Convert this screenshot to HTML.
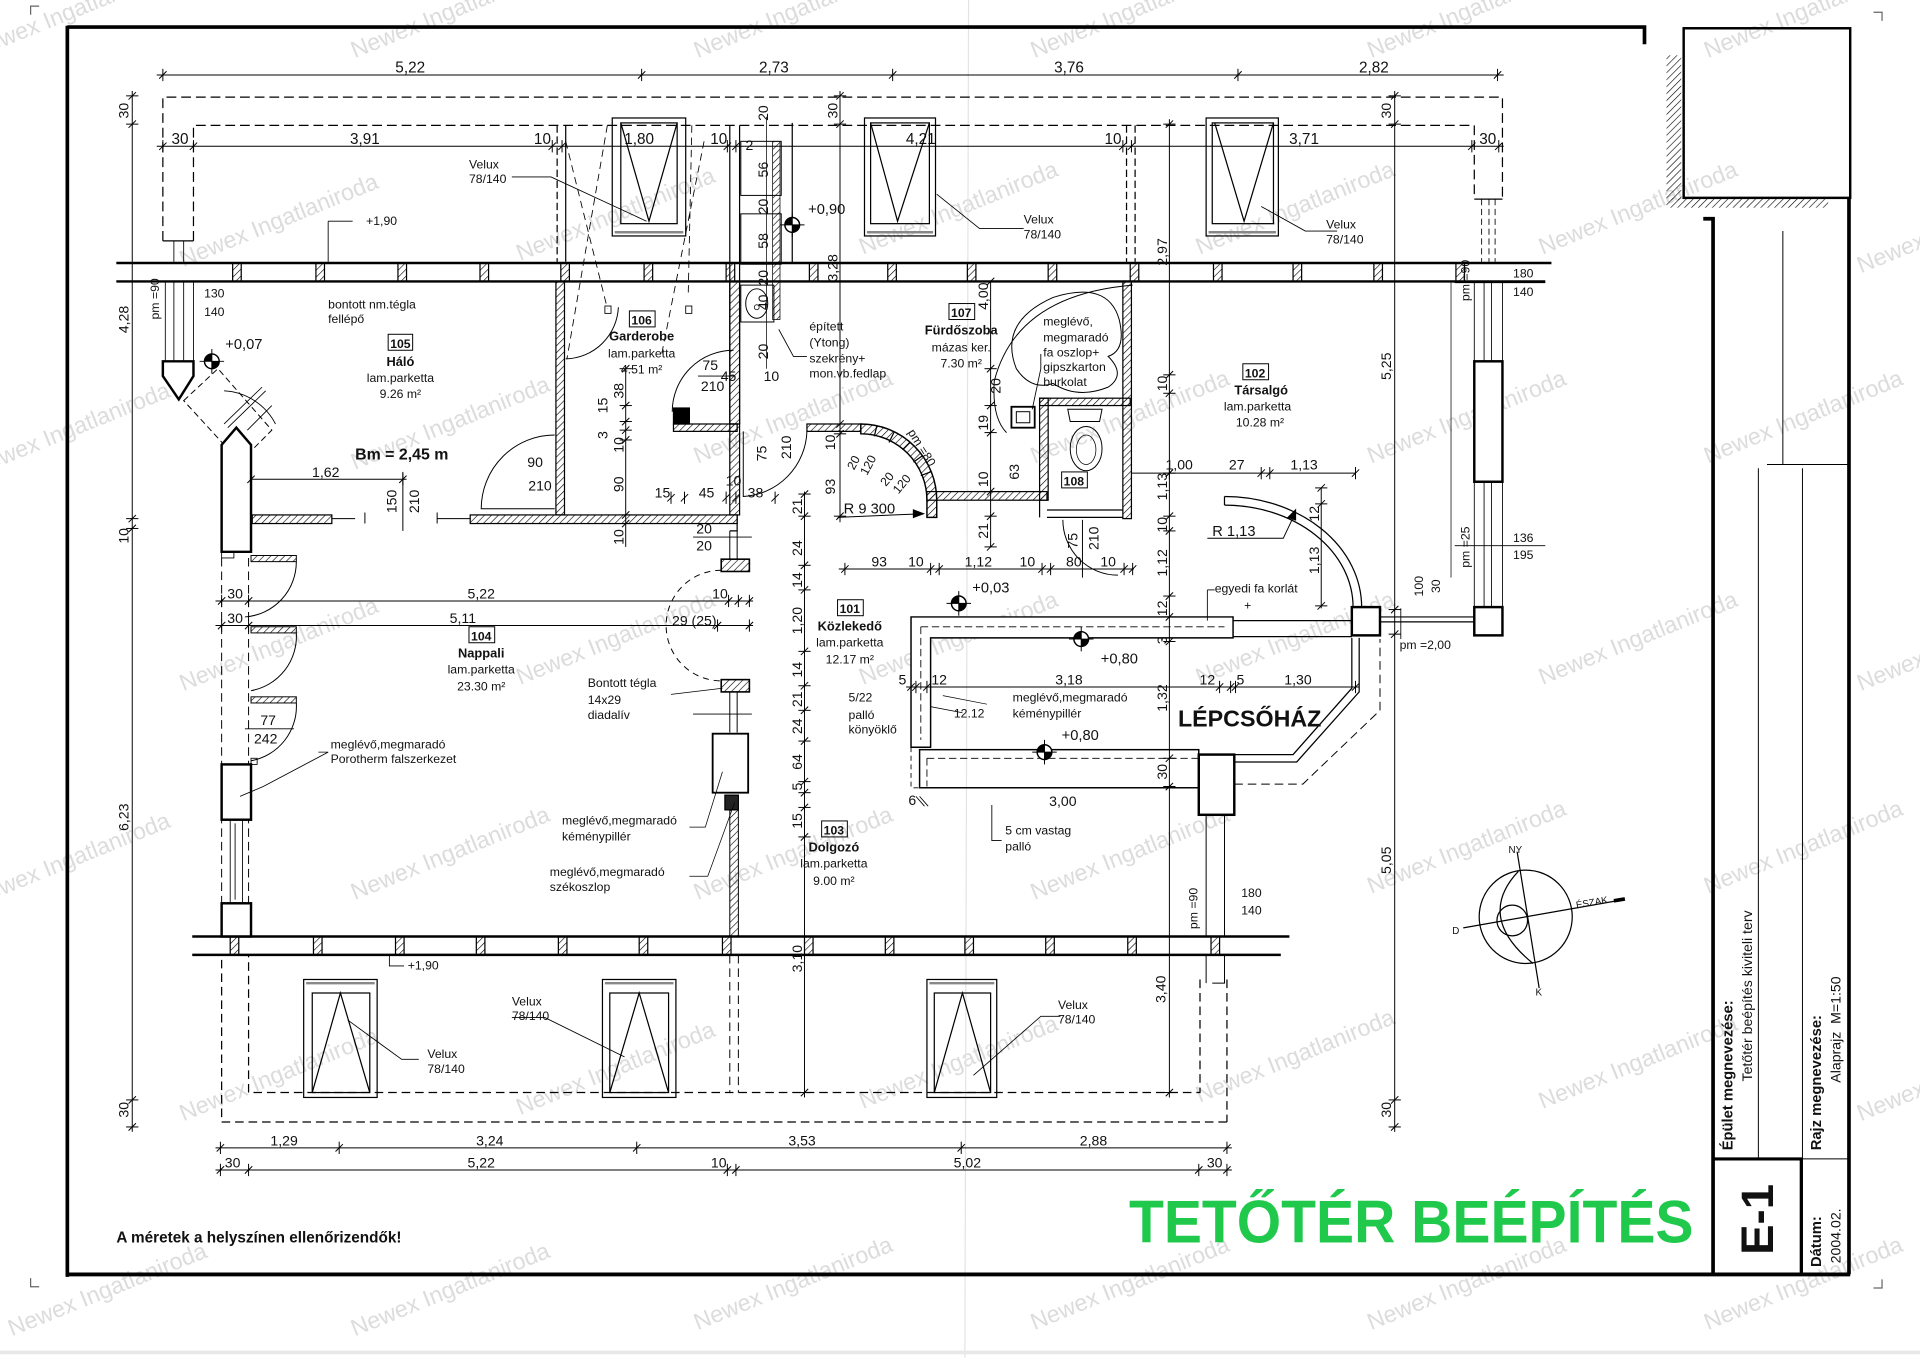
<!DOCTYPE html>
<html><head><meta charset="utf-8">
<style>
html,body{margin:0;padding:0;background:#fff;width:1920px;height:1358px;overflow:hidden}
svg{display:block}
text{font-family:"Liberation Sans",Arial,sans-serif;fill:#111}
.wm{font-size:19px;fill:#dcdcdc}
.d{font-size:12.5px}
.e{font-size:11.5px}
.n{font-size:10px}
.r{font-size:10.5px;font-weight:bold}
</style></head><body>
<svg width="1920" height="1358" viewBox="0 0 1568 1105" preserveAspectRatio="none" xmlns="http://www.w3.org/2000/svg">
<defs>
<pattern id="h" width="4" height="4" patternUnits="userSpaceOnUse" patternTransform="rotate(45)"><line x1="0" y1="0" x2="0" y2="4" stroke="#000" stroke-width="1"/></pattern>
<g id="t" stroke="#000" stroke-width=".8"><line x1="0" y1="-5" x2="0" y2="5"/><line x1="-3" y1="3" x2="3" y2="-3"/></g>
<g id="tv" stroke="#000" stroke-width=".8"><line x1="-5" y1="0" x2="5" y2="0"/><line x1="-3" y1="3" x2="3" y2="-3"/></g>
<g id="lv"><circle r="6" fill="#fff" stroke="#000" stroke-width="1.2"/><path d="M0,0 L-6,0 A6,6 0 0 1 0,-6 Z M0,0 L6,0 A6,6 0 0 1 0,6 Z" fill="#000"/><line x1="-10" y1="0" x2="10" y2="0" stroke="#000" stroke-width=".8"/><line x1="0" y1="-10" x2="0" y2="10" stroke="#000" stroke-width=".8"/></g>
<g id="post"><rect x="0" y="0" width="7" height="15" fill="url(#h)" stroke="#000" stroke-width="1"/></g>
</defs>

<!-- watermarks -->
<g class="wmg">
<text class="wm" text-anchor="middle" transform="translate(60,15) rotate(-22)">Newex Ingatlaniroda</text>
<text class="wm" text-anchor="middle" transform="translate(370,15) rotate(-22)">Newex Ingatlaniroda</text>
<text class="wm" text-anchor="middle" transform="translate(650,15) rotate(-22)">Newex Ingatlaniroda</text>
<text class="wm" text-anchor="middle" transform="translate(925,15) rotate(-22)">Newex Ingatlaniroda</text>
<text class="wm" text-anchor="middle" transform="translate(1200,15) rotate(-22)">Newex Ingatlaniroda</text>
<text class="wm" text-anchor="middle" transform="translate(1475,15) rotate(-22)">Newex Ingatlaniroda</text>
<text class="wm" text-anchor="middle" transform="translate(230,185) rotate(-22)">Newex Ingatlaniroda</text>
<text class="wm" text-anchor="middle" transform="translate(505,180) rotate(-22)">Newex Ingatlaniroda</text>
<text class="wm" text-anchor="middle" transform="translate(785,175) rotate(-22)">Newex Ingatlaniroda</text>
<text class="wm" text-anchor="middle" transform="translate(1060,175) rotate(-22)">Newex Ingatlaniroda</text>
<text class="wm" text-anchor="middle" transform="translate(1340,175) rotate(-22)">Newex Ingatlaniroda</text>
<text class="wm" text-anchor="middle" transform="translate(1600,190) rotate(-22)">Newex Ingatlaniroda</text>
<text class="wm" text-anchor="middle" transform="translate(60,355) rotate(-22)">Newex Ingatlaniroda</text>
<text class="wm" text-anchor="middle" transform="translate(370,350) rotate(-22)">Newex Ingatlaniroda</text>
<text class="wm" text-anchor="middle" transform="translate(650,345) rotate(-22)">Newex Ingatlaniroda</text>
<text class="wm" text-anchor="middle" transform="translate(925,345) rotate(-22)">Newex Ingatlaniroda</text>
<text class="wm" text-anchor="middle" transform="translate(1200,345) rotate(-22)">Newex Ingatlaniroda</text>
<text class="wm" text-anchor="middle" transform="translate(1475,345) rotate(-22)">Newex Ingatlaniroda</text>
<text class="wm" text-anchor="middle" transform="translate(230,530) rotate(-22)">Newex Ingatlaniroda</text>
<text class="wm" text-anchor="middle" transform="translate(505,525) rotate(-22)">Newex Ingatlaniroda</text>
<text class="wm" text-anchor="middle" transform="translate(785,525) rotate(-22)">Newex Ingatlaniroda</text>
<text class="wm" text-anchor="middle" transform="translate(1060,525) rotate(-22)">Newex Ingatlaniroda</text>
<text class="wm" text-anchor="middle" transform="translate(1340,525) rotate(-22)">Newex Ingatlaniroda</text>
<text class="wm" text-anchor="middle" transform="translate(1600,530) rotate(-22)">Newex Ingatlaniroda</text>
<text class="wm" text-anchor="middle" transform="translate(60,705) rotate(-22)">Newex Ingatlaniroda</text>
<text class="wm" text-anchor="middle" transform="translate(370,700) rotate(-22)">Newex Ingatlaniroda</text>
<text class="wm" text-anchor="middle" transform="translate(650,700) rotate(-22)">Newex Ingatlaniroda</text>
<text class="wm" text-anchor="middle" transform="translate(925,700) rotate(-22)">Newex Ingatlaniroda</text>
<text class="wm" text-anchor="middle" transform="translate(1200,695) rotate(-22)">Newex Ingatlaniroda</text>
<text class="wm" text-anchor="middle" transform="translate(1475,695) rotate(-22)">Newex Ingatlaniroda</text>
<text class="wm" text-anchor="middle" transform="translate(230,880) rotate(-22)">Newex Ingatlaniroda</text>
<text class="wm" text-anchor="middle" transform="translate(505,875) rotate(-22)">Newex Ingatlaniroda</text>
<text class="wm" text-anchor="middle" transform="translate(785,870) rotate(-22)">Newex Ingatlaniroda</text>
<text class="wm" text-anchor="middle" transform="translate(1060,865) rotate(-22)">Newex Ingatlaniroda</text>
<text class="wm" text-anchor="middle" transform="translate(1340,870) rotate(-22)">Newex Ingatlaniroda</text>
<text class="wm" text-anchor="middle" transform="translate(1600,880) rotate(-22)">Newex Ingatlaniroda</text>
<text class="wm" text-anchor="middle" transform="translate(90,1055) rotate(-22)">Newex Ingatlaniroda</text>
<text class="wm" text-anchor="middle" transform="translate(370,1055) rotate(-22)">Newex Ingatlaniroda</text>
<text class="wm" text-anchor="middle" transform="translate(650,1050) rotate(-22)">Newex Ingatlaniroda</text>
<text class="wm" text-anchor="middle" transform="translate(925,1050) rotate(-22)">Newex Ingatlaniroda</text>
<text class="wm" text-anchor="middle" transform="translate(1200,1050) rotate(-22)">Newex Ingatlaniroda</text>
<text class="wm" text-anchor="middle" transform="translate(1475,1050) rotate(-22)">Newex Ingatlaniroda</text>
</g>

<!-- scan artefacts -->
<line x1="791" y1="0" x2="788" y2="1105" stroke="#e4e4e4" stroke-width="1"/>
<rect x="0" y="1099" width="1568" height="3" fill="#e8e8e8"/>
<path d="M25,12 V5 H32" fill="none" stroke="#666" stroke-width="1"/>
<path d="M25,1040 V1047 H32" fill="none" stroke="#666" stroke-width="1"/>
<path d="M1530,10 H1537 V17" fill="none" stroke="#666" stroke-width="1"/>
<path d="M1530,1048 H1537 V1041" fill="none" stroke="#666" stroke-width="1"/>

<!-- FRAME -->
<g stroke="#000" fill="none">
<path d="M55,22 H1343 V36" stroke-width="3"/>
<line x1="55" y1="21" x2="55" y2="1039" stroke-width="3"/>
<line x1="54" y1="1037" x2="1511" y2="1037" stroke-width="3.2"/>
<rect x="1375" y="23" width="136" height="138" stroke-width="2"/>
<rect x="1361" y="45" width="12" height="118" fill="url(#h)" stroke="none"/>
<rect x="1361" y="161" width="132" height="8" fill="url(#h)" stroke="none"/>
<path d="M1391,178 H1399 V1037" stroke-width="3"/>
<line x1="1510" y1="161" x2="1510" y2="1037" stroke-width="3"/>
<line x1="1456" y1="188" x2="1456" y2="378" stroke-width=".8"/>
<line x1="1443" y1="378" x2="1509" y2="378" stroke-width=".8"/>
<line x1="1436" y1="381" x2="1436" y2="943" stroke-width=".8"/>
<line x1="1472" y1="381" x2="1472" y2="1037" stroke-width=".8"/>
<path d="M1399,943 H1471 V1037" stroke-width="2.5"/>
<line x1="1472" y1="943" x2="1509" y2="943" stroke-width=".8"/>
</g>
<!-- title block texts -->
<text transform="translate(1415,936) rotate(-90)" font-size="12" font-weight="bold">Épület megnevezése:</text>
<text transform="translate(1431,880) rotate(-90)" font-size="11.5">Tetőtér beépítés kiviteli terv</text>
<text transform="translate(1487,936) rotate(-90)" font-size="12" font-weight="bold">Rajz megnevezése:</text>
<text transform="translate(1503,881) rotate(-90)" font-size="11.5" xml:space="preserve">Alaprajz  M=1:50</text>
<text transform="translate(1487,1031) rotate(-90)" font-size="12" font-weight="bold">Dátum:</text>
<text transform="translate(1503,1028) rotate(-90)" font-size="11.5">2004.02.</text>
<text transform="translate(1448,1021) rotate(-90)" font-size="37" font-weight="bold">E-1</text>

<!-- green title -->
<text x="922" y="1011" font-size="49" font-weight="bold" style="fill:#20c94b" textLength="461" lengthAdjust="spacingAndGlyphs">TETŐTÉR BEÉPÍTÉS</text>
<text x="95" y="1011" font-size="12.5" font-weight="bold">A méretek a helyszínen ellenőrizendők!</text>

<!-- compass -->
<g stroke="#000" fill="none" stroke-width="1">
<circle cx="1246" cy="746" r="38"/>
<path d="M1240,709 Q1205,746 1252,784"/>
<circle cx="1235" cy="749" r="12.5"/>
<line x1="1239" y1="693" x2="1257" y2="804"/>
<line x1="1195" y1="755" x2="1326" y2="732"/>
<line x1="1318" y1="733" x2="1327" y2="731.5" stroke-width="3"/>
</g>
<text x="1232" y="694" font-size="8">NY</text>
<text x="1287" y="737" font-size="8" transform="rotate(-10 1300 735)">ÉSZAK</text>
<text x="1186" y="760" font-size="8">D</text>
<text x="1254" y="810" font-size="8">K</text>

<!-- ================= PLAN ================= -->
<g stroke="#000" fill="none" stroke-width="1">
<path d="M133,196 V79 H1227 V162" stroke-dasharray="8 4"/>
<path d="M158,196 V102 H1204 V162" stroke-dasharray="8 4"/>
<line x1="133" y1="196" x2="158" y2="196"/>
<line x1="1204" y1="162" x2="1227" y2="162"/>
<path d="M142,196 V213 M150,196 V213" stroke-width=".7"/>
<path d="M1210,162 V213 M1216,162 V213 M1221,162 V213" stroke-width=".7" stroke-dasharray="5 3"/>
<line x1="455" y1="102" x2="455" y2="213" stroke-dasharray="6 3"/>
<line x1="462" y1="102" x2="462" y2="213"/>
<line x1="920" y1="102" x2="920" y2="213" stroke-dasharray="6 3"/>
<line x1="927" y1="102" x2="927" y2="213" stroke-dasharray="6 3"/>

<line x1="128" y1="61" x2="1228" y2="61" stroke-width=".8"/>
<line x1="128" y1="119" x2="1228" y2="119" stroke-width=".8"/>
</g>
<use href="#t" x="133" y="61"/><use href="#t" x="524" y="61"/><use href="#t" x="729" y="61"/><use href="#t" x="1011" y="61"/><use href="#t" x="1223" y="61"/>
<use href="#t" x="133" y="119"/><use href="#t" x="158" y="119"/><use href="#t" x="451" y="119"/><use href="#t" x="459" y="119"/><use href="#t" x="594" y="119"/><use href="#t" x="601" y="119"/><use href="#t" x="917" y="119"/><use href="#t" x="924" y="119"/><use href="#t" x="1202" y="119"/><use href="#t" x="1224" y="119"/>
<g class="d" text-anchor="middle">
<text x="335" y="59">5,22</text><text x="632" y="59">2,73</text><text x="873" y="59">3,76</text><text x="1122" y="59">2,82</text>
<text x="147" y="117">30</text><text x="298" y="117">3,91</text><text x="443" y="117">10</text><text x="522" y="117">1,80</text><text x="587" y="117">10</text><text x="752" y="117">4,21</text><text x="909" y="117">10</text><text x="1065" y="117">3,71</text><text x="1215" y="117">30</text>
</g>

<!-- top Velux windows -->
<g stroke="#000" fill="none" stroke-width="1">
<rect x="500" y="96" width="60" height="96"/><rect x="507" y="100" width="46" height="82"/><path d="M507,100 L530,180 L553,100"/><line x1="502" y1="189" x2="558" y2="189" stroke="#888" stroke-width="2"/>
<rect x="706" y="96" width="58" height="96"/><rect x="711" y="100" width="48" height="82"/><path d="M711,100 L733,180 L759,100"/><line x1="708" y1="189" x2="762" y2="189" stroke="#888" stroke-width="2"/>
<rect x="985" y="96" width="59" height="96"/><rect x="990" y="100" width="50" height="82"/><path d="M992,100 L1016,180 L1040,100"/><line x1="987" y1="189" x2="1042" y2="189" stroke="#888" stroke-width="2"/>
<path d="M418,144 L450,144 L528,180" stroke-width=".7"/>
<path d="M836,186 L800,186 L765,158" stroke-width=".7"/>
<path d="M1092,188 L1066,188 L1030,168" stroke-width=".7"/>
<path d="M462,115 L496,251 M496,102 L463,292 M565,102 L562,242 M575,115 L540,290" stroke-dasharray="6 4" stroke-width=".7"/>
<rect x="494" y="249" width="5" height="6" stroke-width=".7"/><rect x="560" y="249" width="5" height="6" stroke-width=".7"/>
</g>
<g class="n">
<text x="383" y="137">Velux</text><text x="383" y="149">78/140</text>
<text x="836" y="182">Velux</text><text x="836" y="194">78/140</text>
<text x="1083" y="186">Velux</text><text x="1083" y="198">78/140</text>
</g>

<!-- TOP ROOF WALL -->
<g stroke="#000" stroke-width="2">
<line x1="95" y1="214" x2="1267" y2="214"/>
<line x1="95" y1="229" x2="1262" y2="229"/>
</g>
<use href="#post" x="190" y="214"/><use href="#post" x="258" y="214"/><use href="#post" x="325" y="214"/><use href="#post" x="392" y="214"/><use href="#post" x="458" y="214"/><use href="#post" x="526" y="214"/><use href="#post" x="593" y="214"/><use href="#post" x="661" y="214"/><use href="#post" x="725" y="214"/><use href="#post" x="790" y="214"/><use href="#post" x="856" y="214"/><use href="#post" x="923" y="214"/><use href="#post" x="991" y="214"/><use href="#post" x="1056" y="214"/><use href="#post" x="1122" y="214"/><use href="#post" x="1189" y="214"/>

<!-- BOTTOM ROOF WALL -->
<g stroke="#000" stroke-width="2">
<line x1="157" y1="762" x2="1053" y2="762"/>
<line x1="157" y1="777" x2="1046" y2="777"/>
</g>
<use href="#post" x="188" y="762"/><use href="#post" x="256" y="762"/><use href="#post" x="323" y="762"/><use href="#post" x="389" y="762"/><use href="#post" x="456" y="762"/><use href="#post" x="522" y="762"/><use href="#post" x="590" y="762"/><use href="#post" x="657" y="762"/><use href="#post" x="723" y="762"/><use href="#post" x="788" y="762"/><use href="#post" x="854" y="762"/><use href="#post" x="921" y="762"/><use href="#post" x="989" y="762"/>

<g stroke="#000" fill="none" stroke-width="1">
<path d="M135,229 V294 M142,229 V294 M150,229 V294 M158,229 V294" stroke-width=".7"/>
<path d="M133,294 H158 V306 L146,325 L133,306 Z" stroke-width="2" fill="#fff"/>
<path d="M150,326 L178,300 L222,350 L196,376 Z" stroke-dasharray="5 3" stroke-width=".8"/>
<path d="M183,345 L214,315 M186,348 L217,318" stroke-width=".7"/>
<path d="M183,318 A50,50 0 0 1 225,345" stroke-width=".7"/>
<path d="M222,330 L202,350" stroke-width=".7"/>
<path d="M181,449 V362 L193,348 L205,362 V449 Z" stroke-width="2" fill="#fff"/>
<rect x="181" y="449" width="10" height="5" stroke-width=".7"/>

<rect x="206" y="419" width="65" height="7" fill="url(#h)"/>
<path d="M271,422 H290 M298,417 V426" stroke-width=".8"/>
<path d="M357,417 V426 M357,422 H384" stroke-width=".8"/>
<rect x="384" y="419" width="218" height="7" fill="url(#h)"/>
<path d="M602,419 V432 H596" stroke-width="1"/>
<rect x="454" y="229" width="7" height="190" fill="url(#h)"/>
<path d="M453,354 A60,60 0 0 0 393,414 H453" stroke-width=".8"/>
<path d="M462,292 A44,44 0 0 0 505,250" stroke-width=".8"/>
<line x1="205" y1="390" x2="332" y2="390" stroke-width=".8"/>
<line x1="329" y1="384" x2="329" y2="432" stroke-width=".8"/>

<path d="M596,102 V345 M604,102 V345" stroke-width="1"/>
<rect x="605" y="115" width="33" height="44" stroke-width=".8"/>
<rect x="605" y="174" width="33" height="41" stroke-width=".8"/>
<rect x="631" y="115" width="6" height="145" fill="url(#h)" stroke-width=".6"/>
<line x1="647" y1="100" x2="647" y2="214"/>
<rect x="605" y="232" width="27" height="30" stroke-width=".8"/>
<ellipse cx="618" cy="247" rx="9" ry="12" stroke-width=".8"/>
<circle cx="618" cy="250" r="2" stroke-width=".6"/>
<rect x="596" y="229" width="8" height="116" fill="url(#h)"/>
<path d="M659,290 L648,290 L636,268" stroke-width=".7"/>
<rect x="550" y="332" width="13" height="13" fill="#000"/>
<rect x="550" y="345" width="52" height="6" fill="url(#h)"/>
<rect x="596" y="345" width="8" height="74" fill="url(#h)"/>
<path d="M599,285 A50,50 0 0 0 549,335" stroke-width=".8"/>
<line x1="570" y1="306" x2="600" y2="306" stroke-width=".8"/>
<path d="M659,351 A55,55 0 0 1 607,404 V351" stroke-width=".8"/>
<rect x="659" y="345" width="44" height="6" fill="url(#h)"/>
<path d="M703,345 A62,62 0 0 1 765,407 V421 H757 V407 A54,54 0 0 0 703,353 Z" fill="url(#h)" stroke-width="1.2"/>
<path d="M716,347 L714,355 M730,352 L726,360 M743,360 L737,366 M753,371 L746,376 M760,384 L752,387" stroke-width="1"/>
<path d="M684,421 L754,418" stroke-width=".8"/>
<path d="M754,418 L746,415 L746,421 Z" fill="#000"/>
<line x1="686" y1="415" x2="686" y2="425" stroke-width=".8"/>

<rect x="757" y="400" width="98" height="7" fill="url(#h)"/>
<rect x="849" y="324" width="7" height="83" fill="url(#h)"/>
<rect x="849" y="324" width="74" height="6" fill="url(#h)"/>
<rect x="917" y="229" width="7" height="193" fill="url(#h)"/>
<path d="M855,415 H917 M855,421 H917 M849,407 V421" stroke-width="1"/>
<rect x="826" y="331" width="19" height="17" stroke-width="1.5"/>
<rect x="830" y="335" width="11" height="9" stroke-width=".8"/>
<path d="M872,333 H900 L898,343 H874 Z" stroke-width=".8"/>
<ellipse cx="887" cy="365" rx="13" ry="18" stroke-width=".8"/>
<ellipse cx="887" cy="366" rx="8" ry="12" stroke-width=".6"/>
<path d="M925,232 Q830,240 812,310 Q810,340 822,352" stroke-width=".8"/>
<path d="M830,300 Q815,262 860,242 Q905,228 914,260 Q920,285 905,290 Q920,305 905,315 Q880,325 860,312 Q842,318 830,300 Z" stroke-width=".8"/>
<path d="M850,288 L850,300 L843,333" stroke-width=".7"/>
<path d="M868,423 A45,45 0 0 0 913,468" stroke-width=".8"/>
<line x1="884" y1="423" x2="884" y2="470" stroke-width=".8"/>

<path d="M1000,404 A112,90 0 0 1 1112,494" stroke-width="1"/>
<path d="M1000,411 A105,83 0 0 1 1105,494" stroke-width="1"/>
<line x1="1000" y1="404" x2="1000" y2="411"/>
<path d="M986,438 H1048 L1058,417" stroke-width=".8"/>
<path d="M1058,415 L1052,421 L1058,423 Z" fill="#000"/>
<line x1="924" y1="385" x2="1107" y2="385" stroke-width=".8"/>
<line x1="1079" y1="397" x2="1079" y2="495" stroke-width=".8"/>

<path d="M1204,229 V294 M1212,229 V294 M1218,229 V294 M1227,229 V294" stroke-width=".7"/>
<rect x="1204" y="294" width="23" height="98" stroke-width="2" fill="#fff"/>
<path d="M1212,392 V494 M1218,392 V494" stroke-width=".7"/>
<path d="M1204,392 V494 M1227,392 V494" stroke-width=".7"/>
<rect x="1204" y="494" width="23" height="23" stroke-width="2" fill="#fff"/>
<rect x="1104" y="494" width="23" height="23" stroke-width="2" fill="#fff"/>
<path d="M1127,502 H1204 M1127,506 H1204" stroke-width="1"/>
<line x1="1185" y1="230" x2="1185" y2="470" stroke-width=".6"/>
<line x1="1188" y1="444" x2="1262" y2="444" stroke-width=".7"/>
<line x1="1188" y1="230" x2="1262" y2="230" stroke-width=".7"/>
<line x1="1144" y1="495" x2="1144" y2="520" stroke-width=".7"/>

<path d="M744,502 H1007 V519 H760 V608 H744 Z" stroke-width="1.2" fill="#fff"/>
<path d="M752,510 H1000 M752,510 V602" stroke-dasharray="6 3" stroke-width=".7"/>
<path d="M1007,505 H1104 M1007,518 H1104" stroke-width="1"/>
<rect x="751" y="610" width="228" height="31" stroke-width="1.2"/>
<path d="M757,617 H979 M757,617 V640" stroke-dasharray="6 3" stroke-width=".7"/>
<path d="M744,608 V641 H751" stroke-dasharray="4 3" stroke-width=".7"/>
<rect x="979" y="614" width="29" height="49" stroke-width="2" fill="#fff"/>
<path d="M1008,614 H1056 L1104,560 V519" stroke-width="1"/>
<path d="M1008,620 H1059 L1110,563 V519" stroke-width="1"/>
<path d="M1008,638 H1064 L1127,578 V520" stroke-dasharray="7 4" stroke-width=".8"/>
<path d="M985,663 V762 M1000,663 V762" stroke-width=".8"/>
<path d="M985,777 V800 M1000,777 V800 H990" stroke-width=".8"/>
<path d="M980,797 V889 H203 M1002,797 V913" stroke-dasharray="7 4"/>
<path d="M1002,913 H181 V777" stroke-dasharray="7 4"/>
<path d="M203,889 V777" stroke-dasharray="7 4"/>
<line x1="986" y1="480" x2="986" y2="505" stroke-width=".7"/>
<line x1="986" y1="480" x2="992" y2="480" stroke-width=".7"/>
<path d="M810,655 V684 H818" stroke-width=".7"/>
<path d="M760,560 L760,575 L786,580" stroke-width=".6"/>
<path d="M806,573 L770,566" stroke-width=".6"/>
<line x1="740" y1="559" x2="1110" y2="559" stroke-width=".8"/>
<line x1="685" y1="463" x2="926" y2="463" stroke-width=".8"/>
<path d="M748,648 L755,656 M751,648 L758,656" stroke-width=".7"/>

<path d="M181,454 V762 M203,454 V762" stroke-dasharray="7 4" stroke-width=".8"/>
<rect x="205" y="452" width="37" height="5" fill="url(#h)" stroke-width=".8"/>
<rect x="205" y="510" width="37" height="5" fill="url(#h)" stroke-width=".8"/>
<rect x="205" y="567" width="37" height="5" fill="url(#h)" stroke-width=".8"/>
<rect x="205" y="617" width="5" height="5" stroke-width=".7"/>
<path d="M242,457 A45,45 0 0 1 200,502" stroke-width=".8"/>
<path d="M242,515 A45,45 0 0 1 205,562" stroke-width=".8"/>
<path d="M242,572 A45,45 0 0 1 205,619" stroke-width=".8"/>
<rect x="181" y="622" width="24" height="45" stroke-width="2" fill="#fff"/>
<path d="M188,667 V735 M198,667 V735 M192,670 V732" stroke-width=".7"/>
<rect x="181" y="735" width="24" height="27" stroke-width="2" fill="#fff"/>
<line x1="200" y1="593" x2="240" y2="593" stroke-width=".7"/>
<path d="M260,612 H268 L215,640 L196,648" stroke-width=".7"/>

<line x1="176" y1="489" x2="615" y2="489" stroke-width=".8"/>
<line x1="176" y1="509" x2="615" y2="509" stroke-width=".8"/>

<path d="M596,432 V455 M602,432 V455" stroke-width=".8"/>
<rect x="589" y="455" width="23" height="10" fill="url(#h)" stroke-width="1.3"/>
<path d="M589,464 A45,45 0 0 0 589,554" stroke-dasharray="5 4" stroke-width=".8"/>
<rect x="589" y="553" width="23" height="10" fill="url(#h)" stroke-width="1.3"/>
<path d="M596,563 V596 M602,563 V596" stroke-width=".8"/>
<rect x="582" y="597" width="29" height="48" stroke-width="1.5" fill="#fff"/>
<rect x="592" y="647" width="11" height="12" fill="#222"/>
<rect x="596" y="659" width="7" height="103" fill="url(#h)" stroke-width=".8"/>
<path d="M596,777 V889 M603,777 V889" stroke-dasharray="7 4" stroke-width=".8"/>
<line x1="566" y1="437" x2="614" y2="437" stroke-width=".7"/>
<line x1="566" y1="581" x2="614" y2="581" stroke-width=".7"/>
<path d="M548,565 L590,560" stroke-width=".6"/>
<path d="M563,673 H576 L590,628" stroke-width=".6"/>
<path d="M563,713 H578 L600,653" stroke-width=".6"/>

<rect x="248" y="797" width="60" height="96"/><rect x="255" y="808" width="47" height="81"/><path d="M255,889 L278,808 L302,889"/><line x1="250" y1="800" x2="306" y2="800" stroke="#888" stroke-width="2"/>
<rect x="492" y="797" width="60" height="96"/><rect x="498" y="808" width="48" height="81"/><path d="M498,889 L522,808 L546,889"/><line x1="494" y1="800" x2="550" y2="800" stroke="#888" stroke-width="2"/>
<rect x="757" y="797" width="57" height="96"/><rect x="763" y="808" width="46" height="81"/><path d="M763,889 L786,808 L809,889"/><line x1="759" y1="800" x2="812" y2="800" stroke="#888" stroke-width="2"/>
<path d="M418,828 L445,828 L510,860" stroke-width=".7"/>
<path d="M342,862 L328,862 L284,830" stroke-width=".7"/>
<path d="M866,827 L850,827 L795,875" stroke-width=".7"/>
<path d="M318,777 V786 H330" stroke-width=".7"/>
<path d="M268,180 H288 M268,180 V213" stroke-width=".7"/>

<line x1="176" y1="934" x2="1006" y2="934" stroke-width=".8"/>
<line x1="176" y1="952" x2="1006" y2="952" stroke-width=".8"/>

<line x1="108" y1="74" x2="108" y2="921" stroke-width=".8"/>
<line x1="1139" y1="74" x2="1139" y2="921" stroke-width=".8"/>
<line x1="955" y1="97" x2="955" y2="893" stroke-width=".8"/>
<line x1="686" y1="74" x2="686" y2="420" stroke-width=".8"/>
<line x1="657" y1="400" x2="657" y2="893" stroke-width=".8"/>
<line x1="809" y1="229" x2="809" y2="445" stroke-width=".8"/>
<line x1="511" y1="300" x2="511" y2="445" stroke-width=".8"/>
<line x1="626" y1="95" x2="626" y2="300" stroke-width=".6"/>
</g>

<!-- ticks -->
<use href="#tv" x="108" y="78"/><use href="#tv" x="108" y="101"/><use href="#tv" x="108" y="422"/><use href="#tv" x="108" y="430"/><use href="#tv" x="108" y="895"/><use href="#tv" x="108" y="917"/>
<use href="#tv" x="1139" y="78"/><use href="#tv" x="1139" y="101"/><use href="#tv" x="1139" y="496"/><use href="#tv" x="1139" y="516"/><use href="#tv" x="1139" y="895"/><use href="#tv" x="1139" y="917"/>
<use href="#tv" x="955" y="101"/><use href="#tv" x="955" y="305"/><use href="#tv" x="955" y="320"/><use href="#tv" x="955" y="385"/><use href="#tv" x="955" y="420"/><use href="#tv" x="955" y="432"/><use href="#tv" x="955" y="485"/><use href="#tv" x="955" y="502"/><use href="#tv" x="955" y="522"/><use href="#tv" x="955" y="617"/><use href="#tv" x="955" y="640"/><use href="#tv" x="955" y="889"/>
<use href="#tv" x="686" y="78"/><use href="#tv" x="686" y="101"/><use href="#tv" x="686" y="345"/><use href="#tv" x="686" y="353"/><use href="#tv" x="686" y="420"/>
<use href="#tv" x="657" y="402"/><use href="#tv" x="657" y="420"/><use href="#tv" x="657" y="460"/><use href="#tv" x="657" y="480"/><use href="#tv" x="657" y="530"/><use href="#tv" x="657" y="558"/><use href="#tv" x="657" y="578"/><use href="#tv" x="657" y="603"/><use href="#tv" x="657" y="636"/><use href="#tv" x="657" y="645"/><use href="#tv" x="657" y="657"/><use href="#tv" x="657" y="681"/><use href="#tv" x="657" y="889"/>
<use href="#tv" x="809" y="229"/><use href="#tv" x="809" y="300"/><use href="#tv" x="809" y="330"/><use href="#tv" x="809" y="352"/><use href="#tv" x="809" y="400"/><use href="#tv" x="809" y="420"/><use href="#tv" x="809" y="445"/>
<use href="#tv" x="511" y="300"/><use href="#tv" x="511" y="330"/><use href="#tv" x="511" y="343"/><use href="#tv" x="511" y="350"/><use href="#tv" x="511" y="358"/><use href="#tv" x="511" y="419"/><use href="#tv" x="511" y="426"/>
<use href="#tv" x="1079" y="397"/><use href="#tv" x="1079" y="410"/><use href="#tv" x="1079" y="493"/>
<use href="#t" x="205" y="390"/><use href="#t" x="329" y="390"/>
<use href="#t" x="181" y="489"/><use href="#t" x="203" y="489"/><use href="#t" x="595" y="489"/><use href="#t" x="603" y="489"/><use href="#t" x="612" y="489"/>
<use href="#t" x="181" y="509"/><use href="#t" x="203" y="509"/><use href="#t" x="586" y="509"/><use href="#t" x="612" y="509"/>
<use href="#t" x="180" y="934"/><use href="#t" x="277" y="934"/><use href="#t" x="520" y="934"/><use href="#t" x="785" y="934"/><use href="#t" x="1002" y="934"/>
<use href="#t" x="180" y="952"/><use href="#t" x="203" y="952"/><use href="#t" x="594" y="952"/><use href="#t" x="601" y="952"/><use href="#t" x="979" y="952"/><use href="#t" x="1002" y="952"/>
<use href="#t" x="955" y="385"/><use href="#t" x="1030" y="385"/><use href="#t" x="1037" y="385"/><use href="#t" x="1107" y="385"/>
<use href="#t" x="690" y="463"/><use href="#t" x="760" y="463"/><use href="#t" x="767" y="463"/><use href="#t" x="851" y="463"/><use href="#t" x="858" y="463"/><use href="#t" x="918" y="463"/><use href="#t" x="925" y="463"/>
<use href="#t" x="744" y="559"/><use href="#t" x="748" y="559"/><use href="#t" x="757" y="559"/><use href="#t" x="996" y="559"/><use href="#t" x="1005" y="559"/><use href="#t" x="1009" y="559"/><use href="#t" x="1107" y="559"/>
<use href="#t" x="548" y="405"/><use href="#t" x="559" y="405"/><use href="#t" x="593" y="405"/><use href="#t" x="601" y="405"/><use href="#t" x="633" y="405"/>

<!-- level symbols -->
<use href="#lv" x="173" y="294"/>
<use href="#lv" x="647" y="183"/>
<use href="#lv" x="783" y="491"/>
<use href="#lv" x="883" y="520"/>
<use href="#lv" x="853" y="612"/>

<!-- ============ LABELS ============ -->
<g class="e" text-anchor="middle">
<text transform="translate(105,90) rotate(-90)">30</text>
<text transform="translate(105,260) rotate(-90)">4,28</text>
<text transform="translate(105,436) rotate(-90)">10</text>
<text transform="translate(105,665) rotate(-90)">6,23</text>
<text transform="translate(105,903) rotate(-90)">30</text>
<text transform="translate(1136,90) rotate(-90)">30</text>
<text transform="translate(1136,298) rotate(-90)">5,25</text>
<text transform="translate(1136,700) rotate(-90)">5,05</text>
<text transform="translate(1136,903) rotate(-90)">30</text>
<text transform="translate(953,205) rotate(-90)">2,97</text>
<text transform="translate(953,312) rotate(-90)">10</text>
<text transform="translate(953,396) rotate(-90)">1,13</text>
<text transform="translate(953,427) rotate(-90)">10</text>
<text transform="translate(953,458) rotate(-90)">1,12</text>
<text transform="translate(953,495) rotate(-90)">12</text>
<text transform="translate(953,521) rotate(-90)">3</text>
<text transform="translate(953,568) rotate(-90)">1,32</text>
<text transform="translate(953,628) rotate(-90)">30</text>
<text transform="translate(952,805) rotate(-90)">3,40</text>
<text transform="translate(684,90) rotate(-90)">30</text>
<text transform="translate(684,218) rotate(-90)">3,28</text>
<text transform="translate(682,360) rotate(-90)">10</text>
<text transform="translate(682,396) rotate(-90)">93</text>
<text transform="translate(655,412) rotate(-90)">21</text>
<text transform="translate(655,446) rotate(-90)">24</text>
<text transform="translate(655,472) rotate(-90)">14</text>
<text transform="translate(655,505) rotate(-90)">1,20</text>
<text transform="translate(655,545) rotate(-90)">14</text>
<text transform="translate(655,569) rotate(-90)">21</text>
<text transform="translate(655,591) rotate(-90)">24</text>
<text transform="translate(655,620) rotate(-90)">64</text>
<text transform="translate(655,640) rotate(-90)">5</text>
<text transform="translate(655,668) rotate(-90)">15</text>
<text transform="translate(655,780) rotate(-90)">3,10</text>
<text transform="translate(807,241) rotate(-90)">4,00</text>
<text transform="translate(817,314) rotate(-90)">20</text>
<text transform="translate(807,344) rotate(-90)">19</text>
<text transform="translate(832,384) rotate(-90)">63</text>
<text transform="translate(807,390) rotate(-90)">10</text>
<text transform="translate(807,432) rotate(-90)">21</text>
<text transform="translate(509,318) rotate(-90)">38</text>
<text transform="translate(496,330) rotate(-90)">15</text>
<text transform="translate(496,354) rotate(-90)">3</text>
<text transform="translate(509,362) rotate(-90)">10</text>
<text transform="translate(509,394) rotate(-90)">90</text>
<text transform="translate(509,437) rotate(-90)">10</text>
<text transform="translate(627,92) rotate(-90)">20</text>
<text transform="translate(627,138) rotate(-90)">56</text>
<text transform="translate(627,168) rotate(-90)">20</text>
<text transform="translate(627,196) rotate(-90)">58</text>
<text transform="translate(627,226) rotate(-90)">20</text>
<text transform="translate(627,246) rotate(-90)">40</text>
<text transform="translate(627,286) rotate(-90)">20</text>
<text x="612" y="122">2</text>
<text x="630" y="310">10</text>
<text transform="translate(324,408) rotate(-90)">150</text>
<text transform="translate(342,408) rotate(-90)">210</text>
<text transform="translate(626,369) rotate(-90)">75</text>
<text transform="translate(646,364) rotate(-90)">210</text>
<text transform="translate(880,440) rotate(-90)">75</text>
<text transform="translate(897,438) rotate(-90)">210</text>
<text transform="translate(1077,418) rotate(-90)">12</text>
<text transform="translate(1077,456) rotate(-90)">1,13</text>
<text transform="translate(1162,477) rotate(-90)" class="n">100</text>
<text transform="translate(1176,477) rotate(-90)" class="n">30</text>
<text x="266" y="388">1,62</text>
<text x="437" y="380">90</text>
<text x="441" y="399">210</text>
<text x="580" y="301">75</text>
<text x="595" y="310">45</text>
<text x="582" y="318">210</text>
<text x="541" y="405">15</text>
<text x="577" y="405">45</text>
<text x="599" y="395">10</text>
<text x="617" y="405">38</text>
<text x="575" y="434">20</text>
<text x="575" y="448">20</text>
<text x="963" y="382">1,00</text>
<text x="1010" y="382">27</text>
<text x="1065" y="382">1,13</text>
<text x="718" y="461">93</text>
<text x="748" y="461">10</text>
<text x="799" y="461">1,12</text>
<text x="839" y="461">10</text>
<text x="877" y="461">80</text>
<text x="905" y="461">10</text>
<text x="737" y="557">5</text>
<text x="767" y="557">12</text>
<text x="873" y="557">3,18</text>
<text x="986" y="557">12</text>
<text x="1013" y="557">5</text>
<text x="1060" y="557">1,30</text>
<text x="745" y="655">6</text>
<text x="868" y="656">3,00</text>
<text x="192" y="487">30</text>
<text x="393" y="487">5,22</text>
<text x="588" y="487">10</text>
<text x="192" y="507">30</text>
<text x="378" y="507">5,11</text>
<text x="567" y="509">29 (25)</text>
<text x="219" y="590">77</text>
<text x="217" y="605">242</text>
<text x="175" y="242" class="n">130</text>
<text x="175" y="257" class="n">140</text>
<text x="1244" y="226" class="n">180</text>
<text x="1244" y="241" class="n">140</text>
<text x="1244" y="441" class="n">136</text>
<text x="1244" y="455" class="n">195</text>
<text x="1022" y="730" class="n">180</text>
<text x="1022" y="744" class="n">140</text>
<text x="232" y="932">1,29</text>
<text x="400" y="932">3,24</text>
<text x="655" y="932">3,53</text>
<text x="893" y="932">2,88</text>
<text x="190" y="950">30</text>
<text x="393" y="950">5,22</text>
<text x="587" y="950">10</text>
<text x="790" y="950">5,02</text>
<text x="992" y="950">30</text>
</g>

<g class="n">
<text transform="translate(130,260) rotate(-90)">pm =90</text>
<text transform="translate(1200,245) rotate(-90)">pm =90</text>
<text transform="translate(1200,462) rotate(-90)">pm =25</text>
<text transform="translate(978,756) rotate(-90)">pm =90</text>
<text x="1143" y="528">pm =2,00</text>
<text x="268" y="251">bontott nm.tégla</text>
<text x="268" y="263">fellépő</text>
<text x="299" y="183">+1,90</text>
<text x="333" y="789">+1,90</text>
<text x="661" y="269">épített</text>
<text x="661" y="282">(Ytong)</text>
<text x="661" y="295">szekrény+</text>
<text x="661" y="307">mon.vb.fedlap</text>
<text x="852" y="265">meglévő,</text>
<text x="852" y="278">megmaradó</text>
<text x="852" y="290">fa oszlop+</text>
<text x="852" y="302">gipszkarton</text>
<text x="852" y="314">burkolat</text>
<text x="992" y="482">egyedi fa korlát</text>
<text x="1016" y="496">+</text>
<text x="480" y="559">Bontott tégla</text>
<text x="480" y="573">14x29</text>
<text x="480" y="585">diadalív</text>
<text x="270" y="609">meglévő,megmaradó</text>
<text x="270" y="621">Porotherm falszerkezet</text>
<text x="459" y="671">meglévő,megmaradó</text>
<text x="459" y="684">kéménypillér</text>
<text x="449" y="713">meglévő,megmaradó</text>
<text x="449" y="725">székoszlop</text>
<text x="693" y="571">5/22</text>
<text x="693" y="585">palló</text>
<text x="693" y="597">könyöklő</text>
<text x="779" y="584">12.12</text>
<text x="827" y="571">meglévő,megmaradó</text>
<text x="827" y="584">kéménypillér</text>
<text x="821" y="679">5 cm vastag</text>
<text x="821" y="692">palló</text>
<text x="418" y="818">Velux</text><text x="418" y="830">78/140</text>
<text x="349" y="861">Velux</text><text x="349" y="873">78/140</text>
<text x="864" y="821">Velux</text><text x="864" y="833">78/140</text>
<text transform="translate(700,378) rotate(-62)" text-anchor="middle">20</text>
<text transform="translate(712,380) rotate(-62)" text-anchor="middle">120</text>
<text transform="translate(727,392) rotate(-50)" text-anchor="middle">20</text>
<text transform="translate(739,396) rotate(-50)" text-anchor="middle">120</text>
<text transform="translate(750,366) rotate(58)" text-anchor="middle">pm =80</text>
</g>
<g font-size="12">
<text x="184" y="284">+0,07</text>
<text x="660" y="174">+0,90</text>
<text x="794" y="482">+0,03</text>
<text x="899" y="540">+0,80</text>
<text x="867" y="602">+0,80</text>
<text x="689" y="418">R 9 300</text>
<text x="990" y="436">R 1,13</text>
</g>
<text x="290" y="374" font-size="13" font-weight="bold">Bm = 2,45 m</text>
<text x="962" y="591" font-size="19" font-weight="bold">LÉPCSŐHÁZ</text>

<!-- room labels -->
<g text-anchor="middle">
<rect x="317" y="272" width="20" height="13" fill="none" stroke="#000" stroke-width=".8"/>
<text x="327" y="283" class="n" font-weight="bold">105</text>
<text x="327" y="298" class="r">Háló</text>
<text x="327" y="311" class="n">lam.parketta</text>
<text x="327" y="324" class="n">9.26 m²</text>

<rect x="514" y="253" width="21" height="13" fill="none" stroke="#000" stroke-width=".8"/>
<text x="524" y="264" class="n" font-weight="bold">106</text>
<text x="524" y="277" class="r">Garderobe</text>
<text x="524" y="291" class="n">lam.parketta</text>
<text x="524" y="304" class="n">4.51 m²</text>

<rect x="775" y="247" width="21" height="13" fill="none" stroke="#000" stroke-width=".8"/>
<text x="785" y="258" class="n" font-weight="bold">107</text>
<text x="785" y="272" class="r">Fürdőszoba</text>
<text x="785" y="286" class="n">mázas ker.</text>
<text x="785" y="299" class="n">7.30 m²</text>

<rect x="867" y="384" width="21" height="13" fill="none" stroke="#000" stroke-width=".8"/>
<text x="877" y="395" class="n" font-weight="bold">108</text>

<rect x="1015" y="296" width="21" height="13" fill="none" stroke="#000" stroke-width=".8"/>
<text x="1025" y="307" class="n" font-weight="bold">102</text>
<text x="1030" y="321" class="r">Társalgó</text>
<text x="1027" y="334" class="n">lam.parketta</text>
<text x="1029" y="347" class="n">10.28 m²</text>

<rect x="684" y="488" width="21" height="13" fill="none" stroke="#000" stroke-width=".8"/>
<text x="694" y="499" class="n" font-weight="bold">101</text>
<text x="694" y="513" class="r">Közlekedő</text>
<text x="694" y="526" class="n">lam.parketta</text>
<text x="694" y="540" class="n">12.17 m²</text>

<rect x="383" y="510" width="21" height="13" fill="none" stroke="#000" stroke-width=".8"/>
<text x="393" y="521" class="n" font-weight="bold">104</text>
<text x="393" y="535" class="r">Nappali</text>
<text x="393" y="548" class="n">lam.parketta</text>
<text x="393" y="562" class="n">23.30 m²</text>

<rect x="671" y="668" width="21" height="13" fill="none" stroke="#000" stroke-width=".8"/>
<text x="681" y="679" class="n" font-weight="bold">103</text>
<text x="681" y="693" class="r">Dolgozó</text>
<text x="681" y="706" class="n">lam.parketta</text>
<text x="681" y="720" class="n">9.00 m²</text>
</g>
</svg>
</body></html>
